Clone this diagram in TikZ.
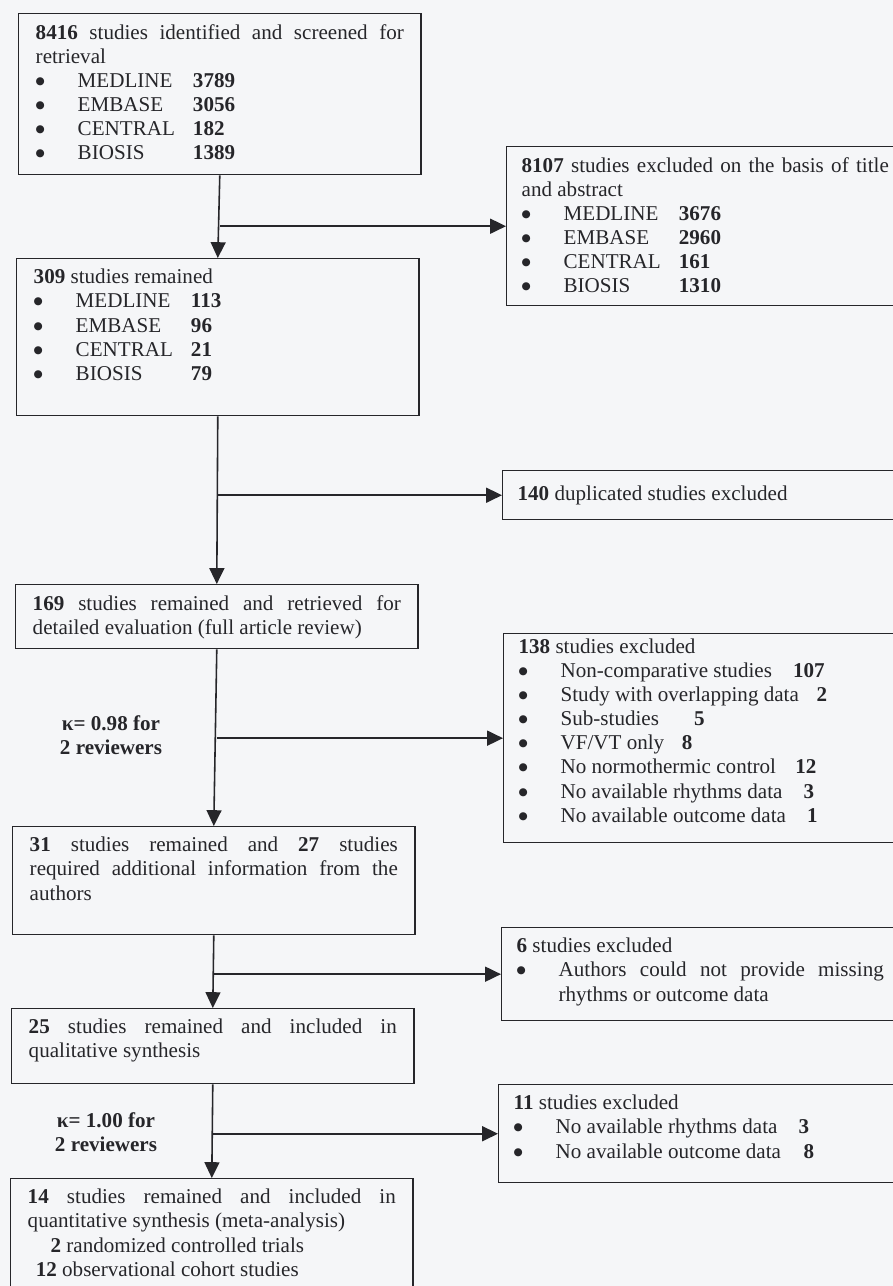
\documentclass[tikz,border=0pt]{standalone}
\usepackage{fontspec}
\setmainfont{Liberation Serif}
\newfontfamily\dotfont{DejaVu Sans}
\usetikzlibrary{positioning, arrows.meta, calc}

\definecolor{paper}{RGB}{245,246,248}
\definecolor{ink}{RGB}{38,38,42}

% bullet rows used inside the boxes
\newcommand{\bul}{\makebox[23.9pt][l]{\raisebox{1.7pt}{\dotfont\fontsize{6}{7}\selectfont ●}}}
\newcommand{\dbrow}[2]{\bul\makebox[65.6pt][l]{#1}\textbf{#2}}
\newcommand{\bodyfont}{\fontsize{12}{13.7}\selectfont}

\tikzset{
  stage/.style={draw=ink, line width=0.8pt, anchor=north west, inner xsep=9.7pt, inner ysep=6pt},
  excl/.style={stage, inner xsep=8.5pt},
  flow/.style={draw=ink, line width=0.9pt, -{Triangle[length=9pt, width=8.5pt]}},
  kappa/.style={align=center, font=\bodyfont\bfseries}
}

\begin{document}
\begin{tikzpicture}[x=0.02cm, y=-0.02cm, font=\bodyfont, text=ink]
  \useasboundingbox (0,0) rectangle (893,1286);
  \fill[paper] (0,0) rectangle (893,1286);
  \clip (0,0) rectangle (893,1286);

  % Main column
  \node[stage] (ident) at (18,13) {\parbox[t][79.6pt][t]{209.5pt}{%
    \textbf{8416} studies identified and screened for\linebreak retrieval\\
    \dbrow{MEDLINE}{3789}\\
    \dbrow{EMBASE}{3056}\\
    \dbrow{CENTRAL}{182}\\
    \dbrow{BIOSIS}{1389}}};
  \node[stage] (rem309) at (16,258) {\parbox[t][77.3pt][t]{209.5pt}{%
    \textbf{309} studies remained\\
    \dbrow{MEDLINE}{113}\\
    \dbrow{EMBASE}{96}\\
    \dbrow{CENTRAL}{21}\\
    \dbrow{BIOSIS}{79}}};
  \node[stage] (rem169) at (15,584) {\parbox[t][24.4pt][t]{209.5pt}{%
    \textbf{169} studies remained and retrieved for\linebreak detailed evaluation (full article review)}};
  \node[stage] (rem31) at (12,826) {\parbox[t][49.5pt][t]{209.5pt}{%
    \textbf{31} studies remained and \textbf{27} studies\linebreak
    required additional information from the\linebreak authors}};
  \node[stage] (rem25) at (11,1008) {\parbox[t][30.7pt][t]{209.5pt}{%
    \textbf{25} studies remained and included in\linebreak qualitative synthesis}};
  \node[stage] (rem14) at (10,1178) {\parbox[t][60pt][t]{209.5pt}{%
    \textbf{14} studies remained and included in\linebreak quantitative synthesis (meta-analysis)\\
    \hspace*{13pt}\textbf{2} randomized controlled trials\\
    \hspace*{4.6pt}\textbf{12} observational cohort studies}};

  % Exclusion boxes
  \node[excl] (ex8107) at (506,146) {\parbox[t][78.5pt][t]{209pt}{%
    \textbf{8107} studies excluded on the basis of title\linebreak and abstract\\
    \dbrow{MEDLINE}{3676}\\
    \dbrow{EMBASE}{2960}\\
    \dbrow{CENTRAL}{161}\\
    \dbrow{BIOSIS}{1310}}};
  \node[excl] (ex140) at (502,470) {\parbox[t][15.9pt][c]{209pt}{%
    \textbf{140} duplicated studies excluded}};
  \node[excl, inner ysep=3pt] (ex138) at (503,633) {\parbox[t][112.9pt][t]{209pt}{%
    \textbf{138} studies excluded\\
    \bul Non-comparative studies\hspace{12pt}\textbf{107}\\
    \bul Study with overlapping data\hspace{10pt}\textbf{2}\\
    \bul Sub-studies\hspace{20pt}\textbf{5}\\
    \bul VF/VT only\hspace{10pt}\textbf{8}\\
    \bul No normothermic control\hspace{11pt}\textbf{12}\\
    \bul No available rhythms data\hspace{12pt}\textbf{3}\\
    \bul No available outcome data\hspace{12pt}\textbf{1}}};
  \node[excl] (ex6) at (501,927) {\parbox[t][40.9pt][t]{209pt}{%
    \textbf{6} studies excluded\par
    \hangindent=23.9pt\hangafter=1
    \bul Authors could not provide missing\linebreak rhythms or outcome data}};
  \node[excl] (ex11) at (498,1084) {\parbox[t][43.8pt][t]{209pt}{%
    \textbf{11} studies excluded\\
    \bul No available rhythms data\hspace{12pt}\textbf{3}\\
    \bul No available outcome data\hspace{12.9pt}\textbf{8}}};

  % Agreement notes
  \node[kappa] (kap1) at (111,735) {κ= 0.98 for\\2 reviewers};
  \node[kappa] (kap2) at (106,1132) {κ= 1.00 for\\2 reviewers};

  % Down arrows
  \draw[flow] (ident.south) -- (rem309.north);
  \draw[flow] (rem309.south) -- (rem169.north);
  \draw[flow] (rem169.south) -- (rem31.north);
  \draw[flow] (rem31.south) -- (rem25.north);
  \draw[flow] (rem25.south) -- (rem14.north);

  % Side arrows
  \draw[flow] (ident.south |- ex8107.west) -- (ex8107.west);
  \draw[flow] (rem309.south |- ex140.west) -- (ex140.west);
  \draw[flow] (rem169.south |- ex138.west) -- (ex138.west);
  \draw[flow] (rem31.south |- ex6.west) -- (ex6.west);
  \draw[flow] (rem25.south |- ex11.west) -- (ex11.west);
\end{tikzpicture}
\end{document}
